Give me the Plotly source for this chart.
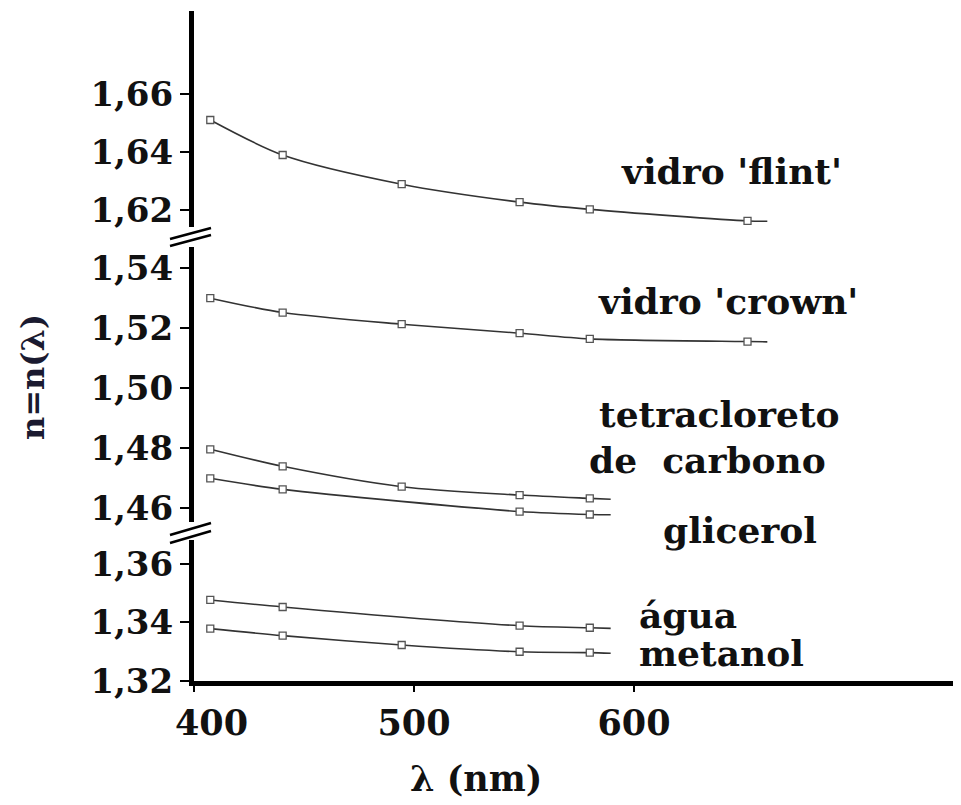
import plotly.graph_objects as go

# ---------------- data ----------------
lam_flint = [407.4, 440.3, 494.4, 548.0, 579.9, 651.6, 660.6]
n_flint = [1.6511, 1.6390, 1.6289, 1.6227, 1.6202, 1.6162, 1.6161]
mark_flint = [1, 1, 1, 1, 1, 1, 0]

lam_crown = [407.4, 440.3, 494.4, 548.0, 579.9, 651.6, 660.6]
n_crown = [1.5300, 1.5252, 1.5213, 1.5183, 1.5164, 1.5155, 1.5154]
mark_crown = [1, 1, 1, 1, 1, 1, 0]

lam_ccl4 = [407.4, 440.3, 494.4, 548.0, 579.9, 589.4]
n_ccl4 = [1.4795, 1.4738, 1.4670, 1.4642, 1.4631, 1.4628]
mark_ccl4 = [1, 1, 1, 1, 1, 0]

lam_glic = [407.4, 440.3, 548.0, 579.9, 589.4]
n_glic = [1.4698, 1.4661, 1.4587, 1.4577, 1.4576]
mark_glic = [1, 1, 1, 1, 0]

lam_agua = [407.4, 440.3, 548.0, 579.9, 589.4]
n_agua = [1.3477, 1.3453, 1.3389, 1.3382, 1.3380]
mark_agua = [1, 1, 1, 1, 0]

lam_met = [407.4, 440.3, 494.4, 548.0, 579.9, 589.4]
n_met = [1.3379, 1.3355, 1.3323, 1.3300, 1.3297, 1.3295]
mark_met = [1, 1, 1, 1, 1, 0]

x_tick_vals = [400, 500, 600]
x_tick_text = ["\u2002\u2002400", "500", "600"]
y_ticks_low = [1.32, 1.34, 1.36]
y_ticks_mid = [1.46, 1.48, 1.50, 1.52, 1.54]
y_ticks_top = [1.62, 1.64, 1.66]

labels = ["vidro 'flint'", "vidro 'crown'", "tetracloreto",
          "de\u00a0\u00a0carbono", "glicerol", "água", "metanol"]

# ---------------- layout geometry ----------------
OFF = 8                      # page body margin of the html page
W, H = 961 - OFF, 805 - OFF
L, R, T, B = 194 - OFF, 0, 11 - OFF, 124
PW, PH = W - L - R, H - T - B


def py(ypix):  # reference pixel row -> paper fraction
    return (H - B - (ypix - OFF)) / PH


def px(xpix):
    return (xpix - OFF - L) / PW


FONT = "DejaVu Serif"
INK = "#111111"
LINE = "#333333"

series = [
    (lam_flint, n_flint, mark_flint, "y3"),
    (lam_crown, n_crown, mark_crown, "y2"),
    (lam_ccl4, n_ccl4, mark_ccl4, "y2"),
    (lam_glic, n_glic, mark_glic, "y2"),
    (lam_agua, n_agua, mark_agua, "y"),
    (lam_met, n_met, mark_met, "y"),
]

fig = go.Figure()
for lam, n, mk, ya in series:
    fig.add_trace(go.Scatter(x=lam, y=n, yaxis=ya, mode="lines",
                             line=dict(color=LINE, width=1.6, shape="spline", smoothing=0.8),
                             hoverinfo="skip"))
for lam, n, mk, ya in series:
    xs = [a for a, m in zip(lam, mk) if m]
    ys = [b for b, m in zip(n, mk) if m]
    fig.add_trace(go.Scatter(x=xs, y=ys, yaxis=ya, mode="markers",
                             marker=dict(symbol="square", size=7, color="white",
                                         line=dict(color="#555555", width=1.3))))

yax_common = dict(showline=True, linewidth=5, linecolor="black", showgrid=False,
                  zeroline=False, ticks="outside", ticklen=9, tickwidth=2,
                  tickcolor="black", tickformat=".2f", ticklabelstandoff=0,
                  tickfont=dict(family=FONT, size=34, color=INK, weight="bold"),
                  anchor="x")

fig.update_layout(
    width=W, height=H, margin=dict(l=L, r=R, t=T, b=B),
    paper_bgcolor="white", plot_bgcolor="white", showlegend=False,
    separators=",.",
    xaxis=dict(range=[400, 400 + PW / 2.2], showline=True, linewidth=5, linecolor="black",
               showgrid=False, zeroline=False, ticks="outside", ticklen=6, tickwidth=2,
               tickcolor="black", tickvals=x_tick_vals, ticktext=x_tick_text,
               ticklabelstandoff=1,
               tickfont=dict(family=FONT, size=35, color=INK, weight="bold"), anchor="y"),
    yaxis=dict(domain=[0, py(540)], range=[1.32, 1.3682], tickvals=y_ticks_low, **yax_common),
    yaxis2=dict(domain=[py(522), py(247)], range=[1.4552, 1.5471], tickvals=y_ticks_mid, **yax_common),
    yaxis3=dict(domain=[py(227), 1], range=[1.6141, 1.6888], tickvals=y_ticks_top, **yax_common),
)

# axis-break marks
for (x0, y0, x1, y1) in [(170, 239, 211, 228), (170, 246, 211, 235),
                         (170, 535, 211, 523), (170, 543, 211, 531)]:
    fig.add_shape(type="line", xref="paper", yref="paper",
                  x0=px(x0), y0=py(y0), x1=px(x1), y1=py(y1),
                  line=dict(color="black", width=2.5))

# curve labels (left x, vertical middle in reference pixels)
label_pos = [(619, 171), (596, 301), (597, 414), (587, 460), (661, 530), (637, 615), (637, 653)]
for txt, (lx, ly) in zip(labels, label_pos):
    fig.add_annotation(text=txt, xref="paper", yref="paper", x=px(lx), y=py(ly),
                       xanchor="left", yanchor="middle", showarrow=False,
                       font=dict(family=FONT, size=36, color=INK, weight="bold"))

# axis titles
fig.add_annotation(text="n=n(λ)", xref="paper", yref="paper", x=px(33), y=py(377),
                   xanchor="center", yanchor="middle", textangle=-90, showarrow=False,
                   font=dict(family=FONT, size=32, color="#1a1a30", weight="bold"))
fig.add_annotation(text="λ (nm)", xref="paper", yref="paper", x=px(476), y=py(778),
                   xanchor="center", yanchor="middle", showarrow=False,
                   font=dict(family=FONT, size=35, color=INK, weight="bold"))

fig.write_html("out.html")
